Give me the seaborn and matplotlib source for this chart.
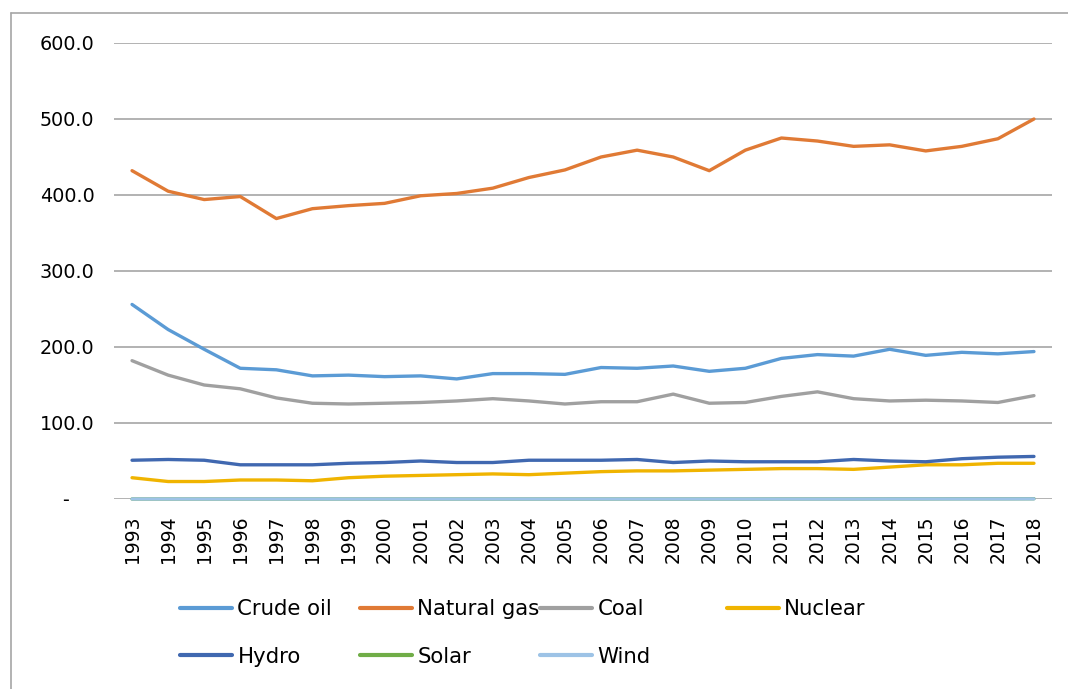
import pandas as pd
import matplotlib.pyplot as plt
import seaborn as sns
from matplotlib.lines import Line2D
from matplotlib.ticker import FuncFormatter

sns.set_style("white")
plt.rcParams['font.family'] = ['DejaVu Sans']
plt.rcParams['text.color'] = 'black'
plt.rcParams['xtick.color'] = 'black'
plt.rcParams['ytick.color'] = 'black'

years = list(range(1993, 2019))
crude_oil = [256, 223, 197, 172, 170, 162, 163, 161, 162, 158, 165, 165, 164,
             173, 172, 175, 168, 172, 185, 190, 188, 197, 189, 193, 191, 194]
natural_gas = [432, 405, 394, 398, 369, 382, 386, 389, 399, 402, 409, 423, 433,
               450, 459, 450, 432, 459, 475, 471, 464, 466, 458, 464, 474, 500]
coal = [182, 163, 150, 145, 133, 126, 125, 126, 127, 129, 132, 129, 125,
        128, 128, 138, 126, 127, 135, 141, 132, 129, 130, 129, 127, 136]
nuclear = [28, 23, 23, 25, 25, 24, 28, 30, 31, 32, 33, 32, 34,
           36, 37, 37, 38, 39, 40, 40, 39, 42, 45, 45, 47, 47]
hydro = [51, 52, 51, 45, 45, 45, 47, 48, 50, 48, 48, 51, 51,
         51, 52, 48, 50, 49, 49, 49, 52, 50, 49, 53, 55, 56]
solar = [0, 0, 0, 0, 0, 0, 0, 0, 0, 0, 0, 0, 0,
         0, 0, 0, 0, 0, 0.1, 0.1, 0.1, 0.2, 0.2, 0.3, 0.3, 0.4]
wind = [0, 0, 0, 0, 0, 0, 0, 0, 0, 0, 0, 0, 0,
        0, 0, 0, 0, 0, 0, 0, 0, 0.1, 0.1, 0.1, 0.1, 0.2]

series = {
    "Crude oil": crude_oil,
    "Natural gas": natural_gas,
    "Coal": coal,
    "Nuclear": nuclear,
    "Hydro": hydro,
    "Solar": solar,
    "Wind": wind,
}
colors = ["#5B9BD5", "#E07A35", "#A0A0A0", "#F0B400", "#4068B0", "#70AD47", "#9DC3E6"]

df = pd.concat([pd.DataFrame({"Year": years, "Value": v, "Source": k})
                for k, v in series.items()], ignore_index=True)

fig = plt.figure(figsize=(10.68, 6.89), dpi=100)
ax = fig.add_axes([114 / 1068, 1 - 499 / 689, (1052 - 114) / 1068, (499 - 43) / 689])

sns.lineplot(data=df, x="Year", y="Value", hue="Source", palette=colors,
             linewidth=2.4, ax=ax, legend=False)
for line in ax.lines:
    line.set_clip_on(False)
    line.set_solid_capstyle('round')

ax.set_xlim(1992.5, 2018.5)
ax.set_ylim(0, 600)
ax.set_xticks(years)
ax.set_xticklabels([str(y) for y in years], rotation=90, fontsize=13.5)
ax.set_yticks([0, 100, 200, 300, 400, 500, 600])
ax.yaxis.set_major_formatter(FuncFormatter(lambda v, _: "-    " if v == 0 else f"{v:.1f}"))
ax.tick_params(axis='y', labelsize=13.8, pad=14, length=0)
ax.tick_params(axis='x', pad=12, length=0)
ax.set_xlabel("")
ax.set_ylabel("")
ax.grid(axis='y', color="#A6A6A6", linewidth=1.2)
ax.set_axisbelow(True)
for s in ax.spines.values():
    s.set_visible(False)

# legend laid out in equal-width columns like the spreadsheet
handles = [Line2D([0], [0], color=c, linewidth=3) for c in colors]
labels = list(series.keys())
col_x = [180, 360, 540, 727]
for j, x in enumerate(col_x):
    idx = [i for i in (j, j + 4) if i < len(labels)]
    fig.legend([handles[i] for i in idx], [labels[i] for i in idx],
               loc="upper left", bbox_to_anchor=(x / 1068, 1 - 599 / 689),
               frameon=False, fontsize=15.3, handlelength=2.45, handletextpad=0.25,
               labelspacing=1.3, borderaxespad=0, borderpad=0)

# outer chart frame (only top and left edges visible in the crop)
fig.add_artist(Line2D([10.5 / 1068, 10.5 / 1068], [0, 1 - 13 / 689], color="#A6A6A6", linewidth=1.2))
fig.add_artist(Line2D([10.5 / 1068, 1], [1 - 13 / 689, 1 - 13 / 689], color="#A6A6A6", linewidth=1.2))

fig.savefig("out.png", dpi=100)
